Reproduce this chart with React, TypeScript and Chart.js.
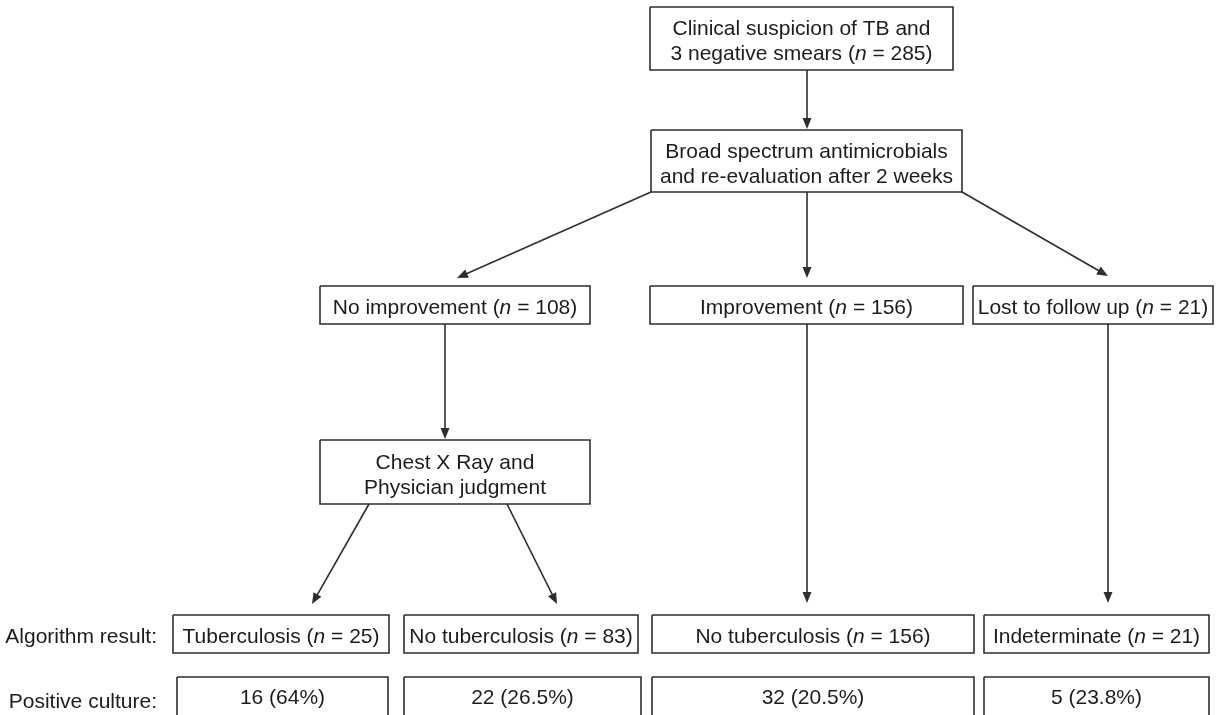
import { useEffect, useRef } from "react";
import { Chart, registerables } from "chart.js";

Chart.register(...registerables);

const CANVAS_W = 1222;
const CANVAS_H = 715;

// Flowchart boxes (text lines; *n* marks italic)
const nodeText: string[][] = [
  ["Clinical suspicion of TB and", "3 negative smears (*n* = 285)"],
  ["Broad spectrum antimicrobials", "and re-evaluation after 2 weeks"],
  ["No improvement (*n* = 108)"],
  ["Improvement (*n* = 156)"],
  ["Lost to follow up (*n* = 21)"],
  ["Chest X Ray and", "Physician judgment"],
  ["Tuberculosis (*n* = 25)"],
  ["No tuberculosis (*n* = 83)"],
  ["No tuberculosis (*n* = 156)"],
  ["Indeterminate (*n* = 21)"],
  ["16 (64%)"],
  ["22 (26.5%)"],
  ["32 (20.5%)"],
  ["5 (23.8%)"],
];
const nodeLeft = [650, 651, 320, 650, 973, 320, 173, 404, 652, 984, 177, 404, 652, 984];
const nodeRight = [953, 962, 590, 963, 1213, 590, 389, 638, 974, 1209, 388, 641, 974, 1209];
const nodeTop = [7, 130, 286, 286, 286, 440, 615, 615, 615, 615, 677, 677, 677, 677];
const nodeBottom = [70, 192, 324, 324, 324, 504, 653, 653, 653, 653, 720, 720, 720, 720];

// Arrows (start -> tip)
const edgeFromX = [807, 651, 807, 962, 445, 807, 1108, 369, 507];
const edgeFromY = [70, 192, 192, 192, 324, 324, 324, 504, 504];
const edgeToX = [807, 457, 807, 1108, 445, 807, 1108, 312, 557];
const edgeToY = [129, 278, 278, 276, 439, 603, 603, 604, 604];

// Row labels
const rowLabels = ["Algorithm result:", "Positive culture:"];
const rowLabelBaseline = [643, 708];
const rowLabelRight = 157;

const FONT_FAMILY = "'Liberation Sans', Arial, Helvetica, sans-serif";
const FONT_SIZE = 21;
const LINE_H = 25;
const INK = "#1c1c1c";
const STROKE = "#2e2e2e";

function drawRich(ctx: CanvasRenderingContext2D, str: string, x: number, baseline: number, align: "center" | "right") {
  const parts = str.split("*");
  const fonts = parts.map((_, i) => `${i % 2 === 1 ? "italic " : ""}${FONT_SIZE}px ${FONT_FAMILY}`);
  let total = 0;
  const widths = parts.map((p, i) => {
    ctx.font = fonts[i];
    const w = ctx.measureText(p).width;
    total += w;
    return w;
  });
  let cx = align === "center" ? x - total / 2 : x - total;
  ctx.textAlign = "left";
  ctx.textBaseline = "alphabetic";
  parts.forEach((p, i) => {
    ctx.font = fonts[i];
    ctx.fillText(p, cx, baseline);
    cx += widths[i];
  });
}

const flowPlugin = {
  id: "flowPlugin",
  beforeDraw(chart: any) {
    const { ctx } = chart;
    ctx.save();
    ctx.fillStyle = "#ffffff";
    ctx.fillRect(0, 0, chart.width, chart.height);
    ctx.restore();
  },
  afterDatasetsDraw(chart: any) {
    const { ctx } = chart;
    const xs = chart.scales.x;
    const ys = chart.scales.y;
    ctx.save();
    // arrowheads
    ctx.fillStyle = STROKE;
    for (let i = 0; i < edgeToX.length; i++) {
      const x1 = xs.getPixelForValue(edgeFromX[i]);
      const y1 = ys.getPixelForValue(edgeFromY[i]);
      const x2 = xs.getPixelForValue(edgeToX[i]);
      const y2 = ys.getPixelForValue(edgeToY[i]);
      const a = Math.atan2(y2 - y1, x2 - x1);
      const len = 11;
      const half = 4.5;
      const bx = x2 - len * Math.cos(a);
      const by = y2 - len * Math.sin(a);
      ctx.beginPath();
      ctx.moveTo(x2, y2);
      ctx.lineTo(bx + half * Math.sin(a), by - half * Math.cos(a));
      ctx.lineTo(bx - half * Math.sin(a), by + half * Math.cos(a));
      ctx.closePath();
      ctx.fill();
    }
    // box texts
    ctx.fillStyle = INK;
    for (let i = 0; i < nodeText.length; i++) {
      const lines = nodeText[i];
      const cx = xs.getPixelForValue((nodeLeft[i] + nodeRight[i]) / 2);
      const bottom = Math.min(nodeBottom[i], 715);
      const top = nodeTop[i];
      const cyVal = i >= 10 ? (top + 716) / 2 : (top + bottom) / 2 + 1.5;
      const cy = ys.getPixelForValue(cyVal);
      const n = lines.length;
      lines.forEach((line, j) => {
        const mid = cy + (j - (n - 1) / 2) * LINE_H;
        drawRich(ctx, line, cx, mid + FONT_SIZE * 0.36, "center");
      });
    }
    // row labels
    rowLabels.forEach((lab, i) => {
      drawRich(ctx, lab, xs.getPixelForValue(rowLabelRight), ys.getPixelForValue(rowLabelBaseline[i]), "right");
    });
    ctx.restore();
  },
};

export default function App() {
  const canvasRef = useRef<HTMLCanvasElement | null>(null);

  useEffect(() => {
    if (!canvasRef.current) return;
    const boxSets = nodeText.map((_, i) => ({
      data: [
        { x: nodeLeft[i], y: nodeTop[i] },
        { x: nodeRight[i], y: nodeTop[i] },
        { x: nodeRight[i], y: nodeBottom[i] },
        { x: nodeLeft[i], y: nodeBottom[i] },
        { x: nodeLeft[i], y: nodeTop[i] },
      ],
      showLine: true,
      borderColor: STROKE,
      borderWidth: 1.6,
      pointRadius: 0,
      fill: false,
      tension: 0,
      clip: false as any,
      borderJoinStyle: "miter" as const,
    }));
    const edgeSets = edgeFromX.map((_, i) => {
      const ang = Math.atan2(edgeToY[i] - edgeFromY[i], edgeToX[i] - edgeFromX[i]);
      return {
        data: [
          { x: edgeFromX[i], y: edgeFromY[i] },
          { x: edgeToX[i] - 6 * Math.cos(ang), y: edgeToY[i] - 6 * Math.sin(ang) },
        ],
        showLine: true,
        borderColor: STROKE,
        borderWidth: 1.6,
        pointRadius: 0,
        fill: false,
        clip: false as any,
      };
    });
    const chart = new Chart(canvasRef.current, {
      type: "scatter",
      data: { datasets: [...boxSets, ...edgeSets] as any },
      options: {
        animation: false,
        responsive: false,
        devicePixelRatio: 1,
        layout: { padding: 0 },
        events: [],
        scales: {
          x: { type: "linear", min: 0, max: CANVAS_W, display: false },
          y: { type: "linear", min: 0, max: CANVAS_H, reverse: true, display: false },
        },
        plugins: {
          legend: { display: false },
          tooltip: { enabled: false },
        },
      },
      plugins: [flowPlugin],
    });
    return () => chart.destroy();
  }, []);

  return (
    <div style={{ position: "absolute", left: 0, top: 0, width: CANVAS_W, height: CANVAS_H, background: "#fff" }}>
      <canvas ref={canvasRef} width={CANVAS_W} height={CANVAS_H} style={{ display: "block" }} />
    </div>
  );
}
